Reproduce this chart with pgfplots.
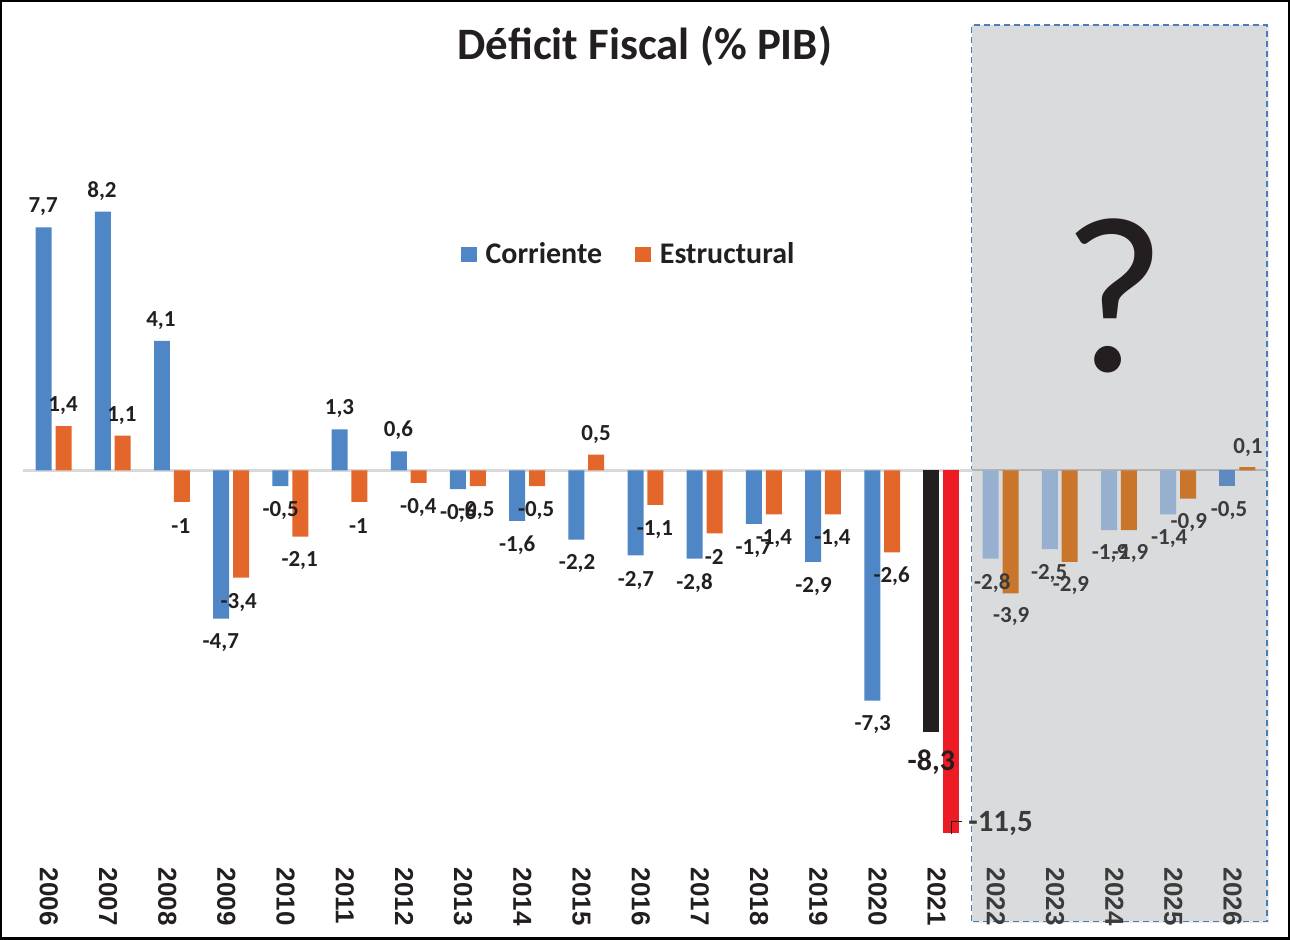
\documentclass[border=0pt]{standalone}
\usepackage{pgfplots}
\pgfplotsset{compat=1.18}
\usepackage{fontspec}
\setmainfont{Carlito}
\newfontfamily\arialfont{Liberation Sans}
\definecolor{cblue}{HTML}{4E86C6}
\definecolor{corange}{HTML}{E3672A}
\definecolor{fblue}{HTML}{98B0D0}
\definecolor{fblue2}{HTML}{6189C1}
\definecolor{forange}{HTML}{C9762C}
\definecolor{cblack}{HTML}{231F20}
\definecolor{cred}{HTML}{ED1C24}
\definecolor{boxgray}{HTML}{DADBDD}
\definecolor{boxblue}{HTML}{4A7EBB}
\definecolor{zgray}{HTML}{D9D9D9}
\definecolor{zgray2}{HTML}{B4B4B4}
\definecolor{txt}{HTML}{231F20}
\definecolor{ftxt}{HTML}{3B3B3B}
\begin{document}
\begin{tikzpicture}[
  lbl/.style={font=\fontsize{11.5}{13}\selectfont\bfseries, text=txt, inner sep=0pt, anchor=center},
  flbl/.style={font=\fontsize{11.5}{13}\selectfont\bfseries, text=ftxt, inner sep=0pt, anchor=center},
  yr/.style={font=\arialfont\fontsize{13}{15}\selectfont\bfseries, text=txt, rotate=-90, anchor=west, inner sep=0pt},
  fyr/.style={font=\arialfont\fontsize{13}{15}\selectfont\bfseries, text=ftxt, rotate=-90, anchor=west, inner sep=0pt}]
\begin{axis}[
  width=645pt, height=469.5pt, scale only axis,
  xmin=-0.885, xmax=20.87, ymin=-14.84, ymax=14.87,
  xtick=\empty, ytick=\empty,
  axis line style={draw=black, line width=1.2pt},
  clip=false,
  legend style={at={(axis cs:6.87,6.84)}, anchor=west, draw=none, fill=none,
    inner sep=0pt, font=\fontsize{15}{18}\selectfont\bfseries,
    legend columns=2, /tikz/every even column/.append style={column sep=14pt},
    nodes={inner sep=2.5pt, text=txt}},
  legend image code/.code={\path[#1, draw=none] (0pt,-4pt) rectangle (8pt,4pt);},
  legend cell align=left,
]
% forecast box
\fill[black!8] (axis cs:15.54,-14.34) rectangle (axis cs:20.53,14.07);
\fill[boxgray] (axis cs:15.51,-14.30) rectangle (axis cs:20.50,14.11);
\draw[boxblue, line width=0.8pt, dash pattern=on 3pt off 2pt] (axis cs:15.51,-14.30) rectangle (axis cs:20.50,14.11);

% zero line
\addplot[zgray, line width=1.5pt, forget plot] coordinates {(-0.51,0) (15.51,0)};
\addplot[zgray2, line width=1pt, forget plot] coordinates {(15.51,0) (20.50,0)};

% bars: Corriente
\addplot[ybar, bar width=0.27, bar shift=-0.168, fill=cblue, draw=none] coordinates {
 (0,7.7) (1,8.2) (2,4.1) (3,-4.7) (4,-0.5) (5,1.3) (6,0.6) (7,-0.6) (8,-1.6) (9,-2.2)
 (10,-2.7) (11,-2.8) (12,-1.7) (13,-2.9) (14,-7.3)};
\addlegendentry{\hspace{2pt}Corriente}
% bars: Estructural
\addplot[ybar, bar width=0.27, bar shift=0.168, fill=corange, draw=none] coordinates {
 (0,1.4) (1,1.1) (2,-1) (3,-3.4) (4,-2.1) (5,-1) (6,-0.4) (7,-0.5) (8,-0.5) (9,0.5)
 (10,-1.1) (11,-2) (12,-1.4) (13,-1.4) (14,-2.6)};
\addlegendentry{\hspace{2pt}Estructural}
% 2021
\addplot[ybar, bar width=0.27, bar shift=-0.168, fill=cblack, draw=none, forget plot] coordinates {(15,-8.3)};
\addplot[ybar, bar width=0.27, bar shift=0.168, fill=cred, draw=none, forget plot] coordinates {(15,-11.5)};
% forecast
\addplot[ybar, bar width=0.27, bar shift=-0.168, fill=fblue, draw=none, forget plot] coordinates {
 (16,-2.8) (17,-2.5) (18,-1.9) (19,-1.4)};
\addplot[ybar, bar width=0.27, bar shift=-0.168, fill=fblue2, draw=none, forget plot] coordinates {(20,-0.5)};
\addplot[ybar, bar width=0.27, bar shift=0.168, fill=forange, draw=none, forget plot] coordinates {
 (16,-3.9) (17,-2.9) (18,-1.9) (19,-0.9) (20,0.1)};

% title
\node[font=\fontsize{22.5}{26}\selectfont\bfseries, text=txt] at (axis cs:9.99,13.45) {Déficit Fiscal (\% PIB)};
% question mark
\node[font=\fontsize{112}{120}\selectfont, text=txt] at (axis cs:17.92,5.54) {?};

% data labels
\node[lbl] at (axis cs:-0.177,8.35) {7,7};
\node[lbl] at (axis cs:0.16,2.06) {1,4};
\node[lbl] at (axis cs:0.818,8.86) {8,2};
\node[lbl] at (axis cs:1.155,1.74) {1,1};
\node[lbl] at (axis cs:1.813,4.75) {4,1};
\node[lbl] at (axis cs:2.15,-1.77) {-1};
\node[lbl] at (axis cs:2.825,-5.47) {-4,7};
\node[lbl] at (axis cs:3.128,-4.18) {-3,4};
\node[lbl] at (axis cs:3.836,-1.27) {-0,5};
\node[lbl] at (axis cs:4.157,-2.85) {-2,1};
\node[lbl] at (axis cs:4.831,1.96) {1,3};
\node[lbl] at (axis cs:5.152,-1.77) {-1};
\node[lbl] at (axis cs:5.826,1.27) {0,6};
\node[lbl] at (axis cs:6.163,-1.17) {-0,4};
\node[lbl] at (axis cs:6.838,-1.36) {-0,6};
\node[lbl] at (axis cs:7.142,-1.27) {-0,5};
\node[lbl] at (axis cs:7.833,-2.37) {-1,6};
\node[lbl] at (axis cs:8.153,-1.27) {-0,5};
\node[lbl] at (axis cs:8.845,-2.97) {-2,2};
\node[lbl] at (axis cs:9.165,1.14) {0,5};
\node[lbl] at (axis cs:9.84,-3.48) {-2,7};
\node[lbl] at (axis cs:10.16,-1.87) {-1,1};
\node[lbl] at (axis cs:10.83,-3.58) {-2,8};
\node[lbl] at (axis cs:11.16,-2.75) {-2};
\node[lbl] at (axis cs:11.83,-2.47) {-1,7};
\node[lbl] at (axis cs:12.17,-2.15) {-1,4};
\node[lbl] at (axis cs:12.84,-3.67) {-2,9};
\node[lbl] at (axis cs:13.16,-2.15) {-1,4};
\node[lbl] at (axis cs:13.84,-8.07) {-7,3};
\node[lbl] at (axis cs:14.16,-3.35) {-2,6};
\node[lbl, font=\fontsize{15}{17}\selectfont\bfseries] at (axis cs:14.83,-9.24) {-8,3};
\node[flbl, font=\fontsize{15.5}{17}\selectfont\bfseries, text=ftxt] at (axis cs:16.0,-11.20) {-11,5};
\draw[txt, line width=0.5pt] (axis cs:15.17,-11.52) -- (axis cs:15.17,-11.14) -- (axis cs:15.34,-11.14);
\node[flbl] at (axis cs:15.86,-3.58) {-2,8};
\node[flbl] at (axis cs:16.18,-4.65) {-3,9};
\node[flbl] at (axis cs:16.82,-3.26) {-2,5};
\node[flbl] at (axis cs:17.19,-3.64) {-2,9};
\node[flbl] at (axis cs:17.85,-2.63) {-1,9};
\node[flbl] at (axis cs:18.19,-2.63) {-1,9};
\node[flbl] at (axis cs:18.85,-2.15) {-1,4};
\node[flbl] at (axis cs:19.18,-1.65) {-0,9};
\node[flbl] at (axis cs:19.86,-1.27) {-0,5};
\node[flbl] at (axis cs:20.18,0.73) {0,1};

% year labels
\node[yr] at (axis cs:-0.08,-12.59) {2006};
\node[yr] at (axis cs:0.92,-12.59) {2007};
\node[yr] at (axis cs:1.92,-12.59) {2008};
\node[yr] at (axis cs:2.92,-12.59) {2009};
\node[yr] at (axis cs:3.92,-12.59) {2010};
\node[yr] at (axis cs:4.92,-12.59) {2011};
\node[yr] at (axis cs:5.92,-12.59) {2012};
\node[yr] at (axis cs:6.92,-12.59) {2013};
\node[yr] at (axis cs:7.92,-12.59) {2014};
\node[yr] at (axis cs:8.92,-12.59) {2015};
\node[yr] at (axis cs:9.92,-12.59) {2016};
\node[yr] at (axis cs:10.92,-12.59) {2017};
\node[yr] at (axis cs:11.92,-12.59) {2018};
\node[yr] at (axis cs:12.92,-12.59) {2019};
\node[yr] at (axis cs:13.92,-12.59) {2020};
\node[yr] at (axis cs:14.92,-12.59) {2021};
\node[fyr] at (axis cs:15.92,-12.59) {2022};
\node[fyr] at (axis cs:16.92,-12.59) {2023};
\node[fyr] at (axis cs:17.92,-12.59) {2024};
\node[fyr] at (axis cs:18.92,-12.59) {2025};
\node[fyr] at (axis cs:19.92,-12.59) {2026};
\end{axis}
\end{tikzpicture}
\end{document}
